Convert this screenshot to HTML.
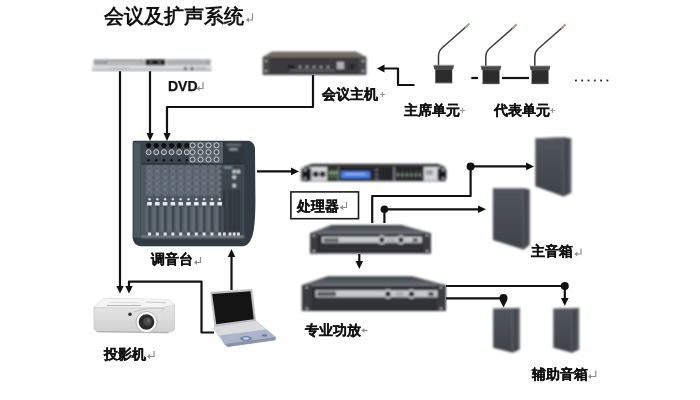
<!DOCTYPE html>
<html><head><meta charset="utf-8">
<style>
html,body{margin:0;padding:0;background:#fff;width:700px;height:400px;overflow:hidden}
svg{position:absolute;left:0;top:0;will-change:transform}
text{font-family:"Liberation Sans",sans-serif;font-weight:bold;fill:#111;stroke:#111;stroke-width:0.25}
.r{stroke:none}
.r{font-weight:normal;fill:#9a9a9a}
</style></head><body>
<svg width="700" height="400" viewBox="0 0 700 400">
<defs>
<marker id="ah" viewBox="0 0 10 10" refX="10" refY="5" markerWidth="7" markerHeight="7" markerUnits="userSpaceOnUse" orient="auto">
<path d="M0,0 L10,5 L0,10 z" fill="#111"/>
</marker>
<filter id="bl" x="-5%" y="-5%" width="110%" height="110%"><feGaussianBlur stdDeviation="0.8"/></filter>
</defs>

<!-- TITLE -->
<text x="104" y="23" font-size="20" style="stroke-width:0">会议及扩声系统</text>

<!-- LINES -->
<g stroke="#111" stroke-width="2.2" fill="none" stroke-linejoin="round">
  <!-- DVD to projector -->
  <path d="M120,71 V286"/>
  <path d="M150,71 V134"/>
  <!-- host to mixer -->
  <path d="M313,75 V107 H167 V134"/>
  <!-- mics to host -->
  <path d="M414.5,85 H398 V68.5 H384"/>
  <!-- mic dash and link -->
  <path d="M471.3,78 H478"/>
  <path d="M502,78 H529"/>
  <!-- mixer to processor -->
  <path d="M257,171.4 H292"/>
  <!-- processor outputs -->
  <path d="M372.2,223 V196 H470.6 V166.4 H527"/>
  <path d="M384.4,223 V209.3 H479"/>
  <!-- amp1 to amp2 -->
  <path d="M359.3,254 V262"/>
  <!-- amp2 to aux speakers -->
  <path d="M446,286 H564.8 V299"/>
  <path d="M446,298.3 H503.5 V301"/>
  <!-- laptop -->
  <path d="M129,286 V281.6 H201.5 V332.5 H214"/>
  <path d="M231.5,290 V256"/>
</g>
<g fill="#111">
  <path d="M146.5,133 L153.7,133 L150,141 z"/>
  <path d="M163.5,133 L170.7,133 L167,141 z"/>
  <path d="M384.5,64.5 L384.5,72.5 L377,68.5 z"/>
  <path d="M291,167.6 L291,175.2 L299,171.4 z"/>
  <path d="M526,162.6 L526,170.2 L534,166.4 z"/>
  <path d="M478,205.5 L478,213.1 L486,209.3 z"/>
  <path d="M355.5,261 L363.1,261 L359.3,269 z"/>
  <path d="M116.3,286 L123.7,286 L120,293.5 z"/>
  <path d="M125.3,286 L132.7,286 L129,293.5 z"/>
  <path d="M227.8,257 L235.2,257 L231.5,249 z"/>
  <path d="M561,298 L568.6,298 L564.8,306 z"/>
  <path d="M499.7,300 L507.3,300 L503.5,307.5 z"/>
  <circle cx="470.6" cy="166.4" r="4"/>
  <circle cx="384.4" cy="209.3" r="3.8"/>
  <circle cx="564.8" cy="286" r="4"/>
  <circle cx="503.5" cy="298" r="4"/>
</g>

<!-- DVD PLAYER -->
<g filter="url(#bl)">
  <rect x="93.6" y="59" width="117" height="6.5" fill="#9c9fa4"/>
  <rect x="93.6" y="59" width="117" height="0.8" fill="#c8cacd"/>
  <rect x="92" y="65.5" width="119.5" height="1" fill="#eceef0"/>
  <rect x="92" y="66.5" width="119.5" height="4" fill="#cfd1d5"/>
  <rect x="92" y="70" width="119.5" height="1" fill="#8a8d92"/>
  <rect x="105.7" y="61.4" width="37" height="2.6" fill="#5c6066"/>
  <rect x="106.5" y="62" width="35.5" height="1.4" fill="#eef0f2"/>
  <rect x="143.5" y="59.3" width="1.2" height="6" fill="#d8dadc"/>
  <rect x="145.6" y="59.5" width="19.4" height="5.8" fill="#131416"/>
  <rect x="150" y="61.5" width="2" height="1.5" fill="#888"/>
  <rect x="158" y="61.5" width="3" height="1.5" fill="#888"/>
  <rect x="166" y="59.3" width="1.2" height="6" fill="#d8dadc"/>
  <rect x="168" y="61.4" width="38" height="2" fill="#b9bcc0"/>
  <circle cx="185.5" cy="68.3" r="1.5" fill="#2a2a2a"/>
  <circle cx="192" cy="68.3" r="1.5" fill="#2a2a2a"/>
  <rect x="196" y="67.6" width="10" height="1.2" fill="#9a9da2"/>
  <rect x="110" y="67.6" width="20" height="0.8" fill="#a6a9ae"/>
</g>
<text x="168" y="91" font-size="14">DVD</text>

<!-- HOST -->
<g filter="url(#bl)">
  <path d="M272,51.5 L356,51.5 L366.4,57 L262.7,57 z" fill="#716a62"/>
  <rect x="262.7" y="56.6" width="103.7" height="1" fill="#8d8882"/>
  <rect x="262.7" y="57" width="103.7" height="18" fill="#48484a"/>
  <rect x="270" y="58" width="89" height="16" fill="#3a3a3c"/>
  <rect x="337" y="62" width="7" height="7" fill="#b4b4b4"/>
  <g fill="#a8a8a8"><circle cx="300" cy="67" r="1.3"/><circle cx="307" cy="67" r="1.3"/><circle cx="314" cy="67" r="1.3"/><circle cx="321" cy="67" r="1.3"/><circle cx="328" cy="67" r="1.3"/></g>
  <rect x="288" y="65" width="6" height="4" fill="#222"/>
  <rect x="350" y="64" width="4" height="5" fill="#222"/>
  <rect x="290" y="70" width="45" height="1" fill="#777"/>
  <g fill="#ccc"><circle cx="266" cy="61" r="1"/><circle cx="266" cy="71" r="1"/><circle cx="363" cy="61" r="1"/><circle cx="363" cy="71" r="1"/></g>
</g>
<text x="322" y="99" font-size="14">会议主机</text>

<!-- MICS -->
<g>
  <g id="mic">
    <path d="M438.5,66 L438.5,56 Q438.5,51 442.5,47.5 L467.5,25.5" stroke="#3a3a3a" stroke-width="1.5" fill="none"/>
    <path d="M465,27.5 L469.5,23.5" stroke="#b89890" stroke-width="2"/>
    <path d="M433.4,65.2 L454,65.2 L453,69.5 L434.4,69.5 z" fill="#4a4a4a"/>
    <path d="M433.4,65.2 L454,65.2" stroke="#9a9a9a" stroke-width="0.8"/>
    <rect x="435.3" y="69.3" width="16.9" height="14" fill="#2c2c2c"/>
    <rect x="435.3" y="82" width="16.9" height="1" fill="#555"/>
  </g>
  <use href="#mic" x="47.3" y="0.8"/>
  <use href="#mic" x="96.3" y="0.8"/>
  <g fill="#222"><rect x="575" y="79.6" width="1.8" height="1.8"/><rect x="581.3" y="79.6" width="1.8" height="1.8"/><rect x="587.6" y="79.6" width="1.8" height="1.8"/><rect x="593.9" y="79.6" width="1.8" height="1.8"/><rect x="600.2" y="79.6" width="1.8" height="1.8"/><rect x="606.5" y="79.6" width="1.8" height="1.8"/></g>
</g>
<text x="403.6" y="115" font-size="14">主席单元</text>
<text x="494" y="115" font-size="14">代表单元</text>

<!-- MIXER -->
<g>
<g>
<path d="M134,140.8 L249,140.8 Q254.4,142.5 255,148 L255.4,200 Q255.4,228 252,237 Q249,245.5 243,246.3 L141,246.3 Q133.5,245.5 132.6,238 L132.6,142.5 Q132.8,140.8 134,140.8 z" fill="#323a43"/>
<rect x="133.6" y="142.5" width="7" height="95" fill="#4e5a62"/>
<rect x="141" y="142" width="103" height="95" fill="#4d5761"/>
<rect x="141" y="142" width="48" height="22" fill="#3c444e"/>
<rect x="189" y="142" width="34" height="22" fill="#59616a"/>
<rect x="223" y="142" width="21" height="22" fill="#2f363e"/>
</g>
<g filter="url(#bl)">
<rect x="226" y="144" width="15" height="1.5" fill="#8a929a"/>
<rect x="229" y="148" width="9" height="2.5" fill="#9ca4ac"/>
<circle cx="149.5" cy="168.5" r="2.4" fill="#3c444e" stroke="#97a1ab" stroke-width="1"/>
<circle cx="149.5" cy="174.5" r="2.4" fill="#3c444e" stroke="#97a1ab" stroke-width="1"/>
<circle cx="149.5" cy="180.5" r="2.4" fill="#3c444e" stroke="#97a1ab" stroke-width="1"/>
<circle cx="149.5" cy="186.5" r="2.4" fill="#3c444e" stroke="#97a1ab" stroke-width="1"/>
<circle cx="149.5" cy="192.5" r="2.4" fill="#3c444e" stroke="#97a1ab" stroke-width="1"/>
<circle cx="157.3" cy="168.5" r="2.4" fill="#3c444e" stroke="#97a1ab" stroke-width="1"/>
<circle cx="157.3" cy="174.5" r="2.4" fill="#3c444e" stroke="#97a1ab" stroke-width="1"/>
<circle cx="157.3" cy="180.5" r="2.4" fill="#3c444e" stroke="#97a1ab" stroke-width="1"/>
<circle cx="157.3" cy="186.5" r="2.4" fill="#3c444e" stroke="#97a1ab" stroke-width="1"/>
<circle cx="157.3" cy="192.5" r="2.4" fill="#3c444e" stroke="#97a1ab" stroke-width="1"/>
<circle cx="165.1" cy="168.5" r="2.4" fill="#3c444e" stroke="#97a1ab" stroke-width="1"/>
<circle cx="165.1" cy="174.5" r="2.4" fill="#3c444e" stroke="#97a1ab" stroke-width="1"/>
<circle cx="165.1" cy="180.5" r="2.4" fill="#3c444e" stroke="#97a1ab" stroke-width="1"/>
<circle cx="165.1" cy="186.5" r="2.4" fill="#3c444e" stroke="#97a1ab" stroke-width="1"/>
<circle cx="165.1" cy="192.5" r="2.4" fill="#3c444e" stroke="#97a1ab" stroke-width="1"/>
<circle cx="172.9" cy="168.5" r="2.4" fill="#3c444e" stroke="#97a1ab" stroke-width="1"/>
<circle cx="172.9" cy="174.5" r="2.4" fill="#3c444e" stroke="#97a1ab" stroke-width="1"/>
<circle cx="172.9" cy="180.5" r="2.4" fill="#3c444e" stroke="#97a1ab" stroke-width="1"/>
<circle cx="172.9" cy="186.5" r="2.4" fill="#3c444e" stroke="#97a1ab" stroke-width="1"/>
<circle cx="172.9" cy="192.5" r="2.4" fill="#3c444e" stroke="#97a1ab" stroke-width="1"/>
<circle cx="180.7" cy="168.5" r="2.4" fill="#3c444e" stroke="#97a1ab" stroke-width="1"/>
<circle cx="180.7" cy="174.5" r="2.4" fill="#3c444e" stroke="#97a1ab" stroke-width="1"/>
<circle cx="180.7" cy="180.5" r="2.4" fill="#3c444e" stroke="#97a1ab" stroke-width="1"/>
<circle cx="180.7" cy="186.5" r="2.4" fill="#3c444e" stroke="#97a1ab" stroke-width="1"/>
<circle cx="180.7" cy="192.5" r="2.4" fill="#3c444e" stroke="#97a1ab" stroke-width="1"/>
<circle cx="188.5" cy="168.5" r="2.4" fill="#3c444e" stroke="#97a1ab" stroke-width="1"/>
<circle cx="188.5" cy="174.5" r="2.4" fill="#3c444e" stroke="#97a1ab" stroke-width="1"/>
<circle cx="188.5" cy="180.5" r="2.4" fill="#3c444e" stroke="#97a1ab" stroke-width="1"/>
<circle cx="188.5" cy="186.5" r="2.4" fill="#3c444e" stroke="#97a1ab" stroke-width="1"/>
<circle cx="188.5" cy="192.5" r="2.4" fill="#3c444e" stroke="#97a1ab" stroke-width="1"/>
<circle cx="196.3" cy="168.5" r="2.4" fill="#3c444e" stroke="#97a1ab" stroke-width="1"/>
<circle cx="196.3" cy="174.5" r="2.4" fill="#3c444e" stroke="#97a1ab" stroke-width="1"/>
<circle cx="196.3" cy="180.5" r="2.4" fill="#3c444e" stroke="#97a1ab" stroke-width="1"/>
<circle cx="196.3" cy="186.5" r="2.4" fill="#3c444e" stroke="#97a1ab" stroke-width="1"/>
<circle cx="196.3" cy="192.5" r="2.4" fill="#3c444e" stroke="#97a1ab" stroke-width="1"/>
<circle cx="204.1" cy="168.5" r="2.4" fill="#3c444e" stroke="#97a1ab" stroke-width="1"/>
<circle cx="204.1" cy="174.5" r="2.4" fill="#3c444e" stroke="#97a1ab" stroke-width="1"/>
<circle cx="204.1" cy="180.5" r="2.4" fill="#3c444e" stroke="#97a1ab" stroke-width="1"/>
<circle cx="204.1" cy="186.5" r="2.4" fill="#3c444e" stroke="#97a1ab" stroke-width="1"/>
<circle cx="204.1" cy="192.5" r="2.4" fill="#3c444e" stroke="#97a1ab" stroke-width="1"/>
<circle cx="211.9" cy="168.5" r="2.4" fill="#3c444e" stroke="#97a1ab" stroke-width="1"/>
<circle cx="211.9" cy="174.5" r="2.4" fill="#3c444e" stroke="#97a1ab" stroke-width="1"/>
<circle cx="211.9" cy="180.5" r="2.4" fill="#3c444e" stroke="#97a1ab" stroke-width="1"/>
<circle cx="211.9" cy="186.5" r="2.4" fill="#3c444e" stroke="#97a1ab" stroke-width="1"/>
<circle cx="211.9" cy="192.5" r="2.4" fill="#3c444e" stroke="#97a1ab" stroke-width="1"/>
<circle cx="219.7" cy="168.5" r="2.4" fill="#3c444e" stroke="#97a1ab" stroke-width="1"/>
<circle cx="219.7" cy="174.5" r="2.4" fill="#3c444e" stroke="#97a1ab" stroke-width="1"/>
<circle cx="219.7" cy="180.5" r="2.4" fill="#3c444e" stroke="#97a1ab" stroke-width="1"/>
<circle cx="219.7" cy="186.5" r="2.4" fill="#3c444e" stroke="#97a1ab" stroke-width="1"/>
<circle cx="219.7" cy="192.5" r="2.4" fill="#3c444e" stroke="#97a1ab" stroke-width="1"/>
<rect x="221" y="165" width="23" height="72" fill="#3d454e"/>
<circle cx="234.2" cy="171.6" r="1.6" fill="#f4f6f8"/>
<circle cx="238.4" cy="171.6" r="1.6" fill="#f4f6f8"/>
<circle cx="234.2" cy="177.2" r="1.6" fill="#f4f6f8"/>
<circle cx="234.2" cy="185.6" r="1.6" fill="#f4f6f8"/>
<rect x="224" y="167" width="8" height="1" fill="#b0b8c0"/>
<rect x="148.6" y="205" width="1.8" height="27" fill="#1c2127"/>
<rect x="146.3" y="206" width="1.3" height="26" fill="#7e8892"/>
<rect x="151.5" y="206" width="1" height="26" fill="#6a747e"/>
<rect x="156.4" y="205" width="1.8" height="27" fill="#1c2127"/>
<rect x="154.1" y="206" width="1.3" height="26" fill="#7e8892"/>
<rect x="159.3" y="206" width="1" height="26" fill="#6a747e"/>
<rect x="164.2" y="205" width="1.8" height="27" fill="#1c2127"/>
<rect x="161.9" y="206" width="1.3" height="26" fill="#7e8892"/>
<rect x="167.1" y="206" width="1" height="26" fill="#6a747e"/>
<rect x="172.0" y="205" width="1.8" height="27" fill="#1c2127"/>
<rect x="169.7" y="206" width="1.3" height="26" fill="#7e8892"/>
<rect x="174.9" y="206" width="1" height="26" fill="#6a747e"/>
<rect x="179.8" y="205" width="1.8" height="27" fill="#1c2127"/>
<rect x="177.5" y="206" width="1.3" height="26" fill="#7e8892"/>
<rect x="182.7" y="206" width="1" height="26" fill="#6a747e"/>
<rect x="187.6" y="205" width="1.8" height="27" fill="#1c2127"/>
<rect x="185.3" y="206" width="1.3" height="26" fill="#7e8892"/>
<rect x="190.5" y="206" width="1" height="26" fill="#6a747e"/>
<rect x="195.4" y="205" width="1.8" height="27" fill="#1c2127"/>
<rect x="193.1" y="206" width="1.3" height="26" fill="#7e8892"/>
<rect x="198.3" y="206" width="1" height="26" fill="#6a747e"/>
<rect x="203.2" y="205" width="1.8" height="27" fill="#1c2127"/>
<rect x="200.9" y="206" width="1.3" height="26" fill="#7e8892"/>
<rect x="206.1" y="206" width="1" height="26" fill="#6a747e"/>
<rect x="211.0" y="205" width="1.8" height="27" fill="#1c2127"/>
<rect x="208.7" y="206" width="1.3" height="26" fill="#7e8892"/>
<rect x="213.9" y="206" width="1" height="26" fill="#6a747e"/>
<rect x="218.8" y="205" width="1.8" height="27" fill="#1c2127"/>
<rect x="216.5" y="206" width="1.3" height="26" fill="#7e8892"/>
<rect x="221.7" y="206" width="1" height="26" fill="#6a747e"/>
<rect x="223.7" y="190" width="1.4" height="42" fill="#1c2127"/>
<rect x="229.3" y="190" width="1.4" height="42" fill="#1c2127"/>
<rect x="233.5" y="190" width="1.4" height="42" fill="#1c2127"/>
<rect x="237.7" y="190" width="1.4" height="42" fill="#1c2127"/>
<rect x="141" y="236.5" width="103" height="1" fill="#c8ced4"/>
</g>
<circle cx="148.6" cy="145.6" r="3.1" fill="#0c0d10" stroke="#59626c" stroke-width="0.6"/>
<circle cx="148.6" cy="152.2" r="2.5" fill="#505862" stroke="#cfd4d9" stroke-width="1"/>
<circle cx="148.6" cy="160.3" r="1.3" fill="#0f1114"/>
<circle cx="156.2" cy="145.6" r="3.1" fill="#0c0d10" stroke="#59626c" stroke-width="0.6"/>
<circle cx="156.2" cy="152.2" r="2.5" fill="#505862" stroke="#cfd4d9" stroke-width="1"/>
<circle cx="156.2" cy="160.3" r="1.3" fill="#0f1114"/>
<circle cx="163.9" cy="145.6" r="3.1" fill="#0c0d10" stroke="#59626c" stroke-width="0.6"/>
<circle cx="163.9" cy="152.2" r="2.5" fill="#505862" stroke="#cfd4d9" stroke-width="1"/>
<circle cx="163.9" cy="160.3" r="1.3" fill="#0f1114"/>
<circle cx="171.6" cy="145.6" r="3.1" fill="#0c0d10" stroke="#59626c" stroke-width="0.6"/>
<circle cx="171.6" cy="152.2" r="2.5" fill="#505862" stroke="#cfd4d9" stroke-width="1"/>
<circle cx="171.6" cy="160.3" r="1.3" fill="#0f1114"/>
<circle cx="179.2" cy="145.6" r="3.1" fill="#0c0d10" stroke="#59626c" stroke-width="0.6"/>
<circle cx="179.2" cy="152.2" r="2.5" fill="#505862" stroke="#cfd4d9" stroke-width="1"/>
<circle cx="179.2" cy="160.3" r="1.3" fill="#0f1114"/>
<circle cx="186.8" cy="145.6" r="3.1" fill="#0c0d10" stroke="#59626c" stroke-width="0.6"/>
<circle cx="186.8" cy="152.2" r="2.5" fill="#505862" stroke="#cfd4d9" stroke-width="1"/>
<circle cx="186.8" cy="160.3" r="1.3" fill="#0f1114"/>
<rect x="141" y="163.3" width="103" height="1.2" fill="#262c33"/>
<circle cx="192.5" cy="145.3" r="2.5" fill="#4a525c" stroke="#d6dade" stroke-width="0.9"/>
<circle cx="200.5" cy="145.3" r="2.5" fill="#4a525c" stroke="#d6dade" stroke-width="0.9"/>
<circle cx="208.5" cy="145.3" r="2.5" fill="#4a525c" stroke="#d6dade" stroke-width="0.9"/>
<circle cx="216.5" cy="145.3" r="2.5" fill="#4a525c" stroke="#d6dade" stroke-width="0.9"/>
<circle cx="192.5" cy="152.2" r="2.5" fill="#4a525c" stroke="#d6dade" stroke-width="0.9"/>
<circle cx="200.5" cy="152.2" r="2.5" fill="#4a525c" stroke="#d6dade" stroke-width="0.9"/>
<circle cx="208.5" cy="152.2" r="2.5" fill="#4a525c" stroke="#d6dade" stroke-width="0.9"/>
<circle cx="216.5" cy="152.2" r="2.5" fill="#4a525c" stroke="#d6dade" stroke-width="0.9"/>
<circle cx="192.5" cy="159.5" r="2.5" fill="#4a525c" stroke="#d6dade" stroke-width="0.9"/>
<circle cx="200.5" cy="159.5" r="2.5" fill="#4a525c" stroke="#d6dade" stroke-width="0.9"/>
<circle cx="208.5" cy="159.5" r="2.5" fill="#4a525c" stroke="#d6dade" stroke-width="0.9"/>
<circle cx="216.5" cy="159.5" r="2.5" fill="#4a525c" stroke="#d6dade" stroke-width="0.9"/>
<rect x="147.2" y="202" width="4.6" height="3.5" fill="#e6eaee"/>
<circle cx="149.5" cy="199.2" r="1.2" fill="#d8dde2"/>
<rect x="148.0" y="232.5" width="3" height="3" fill="#e2e6ea"/>
<rect x="155.0" y="202" width="4.6" height="3.5" fill="#e6eaee"/>
<circle cx="157.3" cy="199.2" r="1.2" fill="#d8dde2"/>
<rect x="155.8" y="232.5" width="3" height="3" fill="#e2e6ea"/>
<rect x="162.8" y="202" width="4.6" height="3.5" fill="#e6eaee"/>
<circle cx="165.1" cy="199.2" r="1.2" fill="#d8dde2"/>
<rect x="163.6" y="232.5" width="3" height="3" fill="#e2e6ea"/>
<rect x="170.6" y="202" width="4.6" height="3.5" fill="#e6eaee"/>
<circle cx="172.9" cy="199.2" r="1.2" fill="#d8dde2"/>
<rect x="171.4" y="232.5" width="3" height="3" fill="#e2e6ea"/>
<rect x="178.4" y="202" width="4.6" height="3.5" fill="#e6eaee"/>
<circle cx="180.7" cy="199.2" r="1.2" fill="#d8dde2"/>
<rect x="179.2" y="232.5" width="3" height="3" fill="#e2e6ea"/>
<rect x="186.2" y="202" width="4.6" height="3.5" fill="#e6eaee"/>
<circle cx="188.5" cy="199.2" r="1.2" fill="#d8dde2"/>
<rect x="187.0" y="232.5" width="3" height="3" fill="#e2e6ea"/>
<rect x="194.0" y="202" width="4.6" height="3.5" fill="#e6eaee"/>
<circle cx="196.3" cy="199.2" r="1.2" fill="#d8dde2"/>
<rect x="194.8" y="232.5" width="3" height="3" fill="#e2e6ea"/>
<rect x="201.8" y="202" width="4.6" height="3.5" fill="#e6eaee"/>
<circle cx="204.1" cy="199.2" r="1.2" fill="#d8dde2"/>
<rect x="202.6" y="232.5" width="3" height="3" fill="#e2e6ea"/>
<rect x="209.6" y="202" width="4.6" height="3.5" fill="#e6eaee"/>
<circle cx="211.9" cy="199.2" r="1.2" fill="#d8dde2"/>
<rect x="210.4" y="232.5" width="3" height="3" fill="#e2e6ea"/>
<rect x="217.4" y="202" width="4.6" height="3.5" fill="#e6eaee"/>
<circle cx="219.7" cy="199.2" r="1.2" fill="#d8dde2"/>
<rect x="218.2" y="232.5" width="3" height="3" fill="#e2e6ea"/>
<rect x="223.0" y="232.5" width="2.8" height="3" fill="#e2e6ea"/>
<rect x="228.6" y="232.5" width="2.8" height="3" fill="#e2e6ea"/>
<rect x="232.8" y="232.5" width="2.8" height="3" fill="#e2e6ea"/>
<rect x="237.0" y="232.5" width="2.8" height="3" fill="#e2e6ea"/>

</g>
<text x="151" y="264" font-size="14">调音台</text>

<rect x="290.9" y="191.9" width="67.6" height="26.8" fill="#fff" stroke="#1a1a1a" stroke-width="1.6"/>
<text x="296.5" y="211" font-size="14">处理器</text>

<!-- AMPS+SPEAKERS -->
<g filter="url(#bl)">
<defs><linearGradient id="sg" x1="0" y1="0" x2="0" y2="1"><stop offset="0" stop-color="#50555c"/><stop offset="1" stop-color="#3f4349"/></linearGradient><linearGradient id="ss" x1="0" y1="0" x2="1" y2="0"><stop offset="0" stop-color="#3a3e44"/><stop offset="0.7" stop-color="#4a4e55"/><stop offset="1" stop-color="#777b81"/></linearGradient></defs>
<defs><linearGradient id="tg224" x1="0" y1="0" x2="0" y2="1"><stop offset="0" stop-color="#3c4044"/><stop offset="1" stop-color="#646c73"/></linearGradient></defs>
<path d="M331.5,224.9 L401.5,224.9 L430.8,233 L310.1,233 z" fill="url(#tg224)"/>
<rect x="310.1" y="233" width="120.7" height="20.5" fill="#2b2c30"/>
<rect x="310.1" y="233" width="120.7" height="0.8" fill="#8a8d92"/>
<rect x="310.1" y="233" width="7.5" height="20.5" fill="#3a3b3f"/>
<rect x="423.3" y="233" width="7.5" height="20.5" fill="#3a3b3f"/>
<circle cx="313.9" cy="235.5" r="1" fill="#d8d8d8"/>
<circle cx="313.9" cy="251.0" r="1" fill="#d8d8d8"/>
<circle cx="427.1" cy="235.5" r="1" fill="#d8d8d8"/>
<circle cx="427.1" cy="251.0" r="1" fill="#d8d8d8"/>
<rect x="322" y="237" width="99.8" height="5.8" fill="#c4c7cb"/>
<rect x="322" y="237" width="99.8" height="1" fill="#e4e6e8"/>
<rect x="324.0" y="238.2" width="14.3" height="3.4" fill="#1e1f22"/>
<rect x="325.5" y="239.3" width="11.3" height="1.2" fill="#9a9ca0"/>
<circle cx="381.8" cy="239.9" r="4.3" fill="#f4f5f6" stroke="#8a8d92" stroke-width="0.5"/>
<circle cx="381.8" cy="239.9" r="2.8" fill="#2a2c30"/>
<circle cx="400.9" cy="239.9" r="4.3" fill="#f4f5f6" stroke="#8a8d92" stroke-width="0.5"/>
<circle cx="400.9" cy="239.9" r="2.8" fill="#2a2c30"/>
<rect x="387.4" y="237.9" width="8" height="4" fill="#a8abb0"/>
<rect x="412.8" y="238.5" width="5" height="2.8" fill="#2a2b2e"/>
<rect x="319.6" y="244.6" width="101.7" height="0.7" fill="#3e4044"/>
<rect x="319.6" y="246.8" width="101.7" height="0.7" fill="#3e4044"/>
<rect x="319.6" y="249.0" width="101.7" height="0.7" fill="#3e4044"/>
<defs><linearGradient id="tg276" x1="0" y1="0" x2="0" y2="1"><stop offset="0" stop-color="#3c4044"/><stop offset="1" stop-color="#646c73"/></linearGradient></defs>
<path d="M327.5,276.25 L412,276.25 L446,285 L301.9,285 z" fill="url(#tg276)"/>
<rect x="301.9" y="285" width="144.1" height="26.0" fill="#2b2c30"/>
<rect x="301.9" y="285" width="144.1" height="0.8" fill="#8a8d92"/>
<rect x="301.9" y="285" width="9.8" height="26.0" fill="#3a3b3f"/>
<rect x="436.2" y="285" width="9.8" height="26.0" fill="#3a3b3f"/>
<circle cx="306.8" cy="287.5" r="1" fill="#d8d8d8"/>
<circle cx="306.8" cy="308.5" r="1" fill="#d8d8d8"/>
<circle cx="441.1" cy="287.5" r="1" fill="#d8d8d8"/>
<circle cx="441.1" cy="308.5" r="1" fill="#d8d8d8"/>
<rect x="315.6" y="290.6" width="121.9" height="6.6" fill="#c4c7cb"/>
<rect x="315.6" y="290.6" width="121.9" height="1" fill="#e4e6e8"/>
<rect x="317.6" y="291.8" width="18.0" height="4.2" fill="#1e1f22"/>
<rect x="319.1" y="293.3" width="15.0" height="1.2" fill="#9a9ca0"/>
<circle cx="388" cy="293.9" r="4.5" fill="#f4f5f6" stroke="#8a8d92" stroke-width="0.5"/>
<circle cx="388" cy="293.9" r="3.0" fill="#2a2c30"/>
<circle cx="411.5" cy="293.9" r="4.5" fill="#f4f5f6" stroke="#8a8d92" stroke-width="0.5"/>
<circle cx="411.5" cy="293.9" r="3.0" fill="#2a2c30"/>
<rect x="395.8" y="291.9" width="8" height="4" fill="#a8abb0"/>
<rect x="428.5" y="292.1" width="5" height="3.6" fill="#2a2b2e"/>
<rect x="313.7" y="299.0" width="120.5" height="0.7" fill="#3e4044"/>
<rect x="313.7" y="301.2" width="120.5" height="0.7" fill="#3e4044"/>
<rect x="313.7" y="303.4" width="120.5" height="0.7" fill="#3e4044"/>
<rect x="313.7" y="305.6" width="120.5" height="0.7" fill="#3e4044"/>
<rect x="313.7" y="307.8" width="120.5" height="0.7" fill="#3e4044"/>
<path d="M535.3,138.4 563.5,137.3 563.5,196.5 535.3,186.3 z" fill="url(#sg)"/>
<path d="M563.5,137.3 571.5,138.6 571.5,193 563.5,196.5 z" fill="url(#ss)"/>
<path d="M563.5,137.3 L563.5,196.5" stroke="#5e6268" stroke-width="1.2"/>
<path d="M535.3,138.6 563.5,137.5 571.5,138.8" stroke="#72767d" stroke-width="1" fill="none"/>
<path d="M492.9,188.4 523.5,188.4 523.5,249.5 492.9,240 z" fill="url(#sg)"/>
<path d="M523.5,188.4 530,189.4 530,244.8 523.5,249.5 z" fill="url(#ss)"/>
<path d="M523.5,188.4 L523.5,249.5" stroke="#5e6268" stroke-width="1.2"/>
<path d="M492.9,188.6 523.5,188.6 530,189.6" stroke="#72767d" stroke-width="1" fill="none"/>
<path d="M493.1,308.8 512.6,308.2 512.6,352.7 493.1,347.8 z" fill="url(#sg)"/>
<path d="M512.6,308.2 520,308 520,349.5 512.6,352.7 z" fill="url(#ss)"/>
<path d="M512.6,308.2 L512.6,352.7" stroke="#5e6268" stroke-width="1.2"/>
<path d="M493.1,309 512.6,308.4 520,308.2" stroke="#72767d" stroke-width="1" fill="none"/>
<path d="M553.3,308.8 572,308.2 572,352.7 553.3,347.8 z" fill="url(#sg)"/>
<path d="M572,308.2 579.3,308 579.3,349.5 572,352.7 z" fill="url(#ss)"/>
<path d="M572,308.2 L572,352.7" stroke="#5e6268" stroke-width="1.2"/>
<path d="M553.3,309 572,308.4 579.3,308.2" stroke="#72767d" stroke-width="1" fill="none"/>
<path d="M312,163.7 L437.4,163.7 L446,167 L303,167 z" fill="#37383b"/>
<rect x="300.7" y="167" width="145.3" height="14" fill="#2a2c2f"/>
<rect x="300.7" y="167" width="10.7" height="14" fill="#cfd1d4"/>
<rect x="301.5" y="167.5" width="9.5" height="13.5" rx="3.5" fill="#18191b"/>
<circle cx="305" cy="170" r="1" fill="#e8e8e8"/><circle cx="305" cy="178.5" r="1" fill="#e8e8e8"/>
<rect x="311.4" y="167" width="16" height="14" fill="#d3d5d8"/>
<circle cx="315.7" cy="174.3" r="3" fill="#1c1d20"/><circle cx="322.6" cy="174.3" r="3" fill="#1c1d20"/>
<rect x="327.5" y="167" width="10.7" height="14" fill="#222a22"/>
<rect x="329.8" y="169.5" width="1.2" height="9" fill="#6d8a62"/>
<rect x="329.5" y="172" width="1.8" height="1.5" fill="#c8e0b0"/>
<rect x="332.8" y="169.5" width="1.2" height="9" fill="#6d8a62"/>
<rect x="332.5" y="172" width="1.8" height="1.5" fill="#c8e0b0"/>
<rect x="335.8" y="169.5" width="1.2" height="9" fill="#6d8a62"/>
<rect x="335.5" y="172" width="1.8" height="1.5" fill="#c8e0b0"/>
<rect x="338.2" y="167" width="1.2" height="14" fill="#8a8c90"/>
<rect x="339.4" y="167" width="54" height="14" fill="#25272b"/>
<rect x="341" y="171.3" width="29" height="7" fill="#4a7fe4"/>
<rect x="345" y="173.3" width="20" height="1.5" fill="#a9c4f5"/>
<rect x="375" y="169.2" width="3" height="1.6" fill="#7a7c80"/>
<rect x="375" y="173.7" width="3" height="1.6" fill="#7a7c80"/>
<rect x="375" y="177.7" width="3" height="1.6" fill="#7a7c80"/>
<rect x="393.4" y="167" width="1.6" height="14" fill="#8a8c90"/>
<rect x="395" y="167" width="28.7" height="14" fill="#222426"/>
<rect x="397.5" y="170.5" width="1.2" height="8" fill="#5a5c60"/>
<rect x="396.9" y="174" width="2.4" height="1.6" fill="#8fae7c"/>
<rect x="401.9" y="170.5" width="1.2" height="8" fill="#5a5c60"/>
<rect x="401.3" y="174" width="2.4" height="1.6" fill="#8fae7c"/>
<rect x="406.3" y="170.5" width="1.2" height="8" fill="#5a5c60"/>
<rect x="405.7" y="174" width="2.4" height="1.6" fill="#8fae7c"/>
<rect x="410.7" y="170.5" width="1.2" height="8" fill="#5a5c60"/>
<rect x="410.1" y="174" width="2.4" height="1.6" fill="#8fae7c"/>
<rect x="415.1" y="170.5" width="1.2" height="8" fill="#5a5c60"/>
<rect x="414.5" y="174" width="2.4" height="1.6" fill="#8fae7c"/>
<rect x="419.5" y="170.5" width="1.2" height="8" fill="#5a5c60"/>
<rect x="418.9" y="174" width="2.4" height="1.6" fill="#8fae7c"/>
<rect x="423.7" y="167" width="13.7" height="14" fill="#d6d8db"/>
<rect x="426" y="170" width="7" height="5" fill="#9c9ea2"/>
<rect x="437.4" y="167" width="8.6" height="14" fill="#cfd1d4"/>
<rect x="437.8" y="167.5" width="8.5" height="13.5" rx="3.5" fill="#18191b"/>
<circle cx="443" cy="170" r="1" fill="#e8e8e8"/><circle cx="443" cy="178.5" r="1" fill="#e8e8e8"/>
<rect x="300.7" y="180.6" width="145.3" height="0.8" fill="#555"/>

</g>
<text x="305" y="335" font-size="14">专业功放</text>

<text x="531" y="256" font-size="14">主音箱</text>
<text x="532" y="378.5" font-size="14">辅助音箱</text>

<!-- PROJECTOR -->
<g>
  <defs><linearGradient id="pjf" x1="0" y1="0" x2="0" y2="1"><stop offset="0" stop-color="#ebebeb"/><stop offset="1" stop-color="#d0d0d0"/></linearGradient></defs>
  <path d="M103,298.5 L169,299.5 L174.5,305 L174.5,330 L168,333 L97,332 L94,329 L94,307.5 z" fill="url(#pjf)" stroke="#c9c9c9" stroke-width="0.8"/>
  <path d="M103,298.5 L169,299.5 L174.5,305 L162,308 L94,307.5 z" fill="#f4f4f4"/>
  <path d="M94,307.5 L162,308 L174.5,305" stroke="#cdcdcd" stroke-width="0.8" fill="none"/>
  <path d="M162,308 L168,333" stroke="#d6d6d6" stroke-width="0.8" fill="none"/>
  <path d="M107,305.5 L141,305.5" stroke="#b5b5b5" stroke-width="1.2"/>
  <path d="M110,302.5 L138,302.5" stroke="#dcdcdc" stroke-width="1"/>
  <path d="M146,302 L166,302.8" stroke="#c8c8c8" stroke-width="1"/>
  <path d="M97,331.5 L168,332.5" stroke="#b0b0b0" stroke-width="1"/>
  <path d="M134,312 Q150,306 165,309" stroke="#c4c4c4" stroke-width="1" fill="none"/>
  <circle cx="146.5" cy="322" r="10.5" fill="#fbfbfb" stroke="#a8a8a8" stroke-width="0.8"/>
  <circle cx="146.5" cy="322" r="7.8" fill="#2a2a2a"/>
  <circle cx="147.5" cy="321.5" r="4.2" fill="#4a4a4a"/>
  <circle cx="148.5" cy="320.5" r="1.5" fill="#6a6a6a"/>
  <circle cx="130" cy="314.3" r="1.8" fill="#333"/>
</g>
<text x="104" y="359" font-size="14">投影机</text>

<!-- LAPTOP -->
<g>
  <path d="M210.7,292.3 L252,289.5 L255.6,320.7 L214.7,326.4 z" fill="#c4c5c8" stroke="#a9abaf" stroke-width="0.6"/>
  <path d="M212.2,294 L250.5,291.3 L253.8,319.3 L216.2,324.3 z" fill="#141414"/>
  <path d="M214.7,326.4 L255.6,320.7 L275.6,337 L275.2,340 L227.7,346.7 L224.5,344 L213.9,328.8 z" fill="#d9dbdf" stroke="#b5b8bd" stroke-width="0.6"/>
  <path d="M219.5,335.5 L266,329.5 L275.6,337 L275.2,340 L227.7,346.7 L224.5,344 z" fill="#aab5c9"/>
  <path d="M224.5,344 L227.7,346.7 L275.2,340 L275.6,337 z" fill="#8893a8"/>
  <ellipse cx="246" cy="338.5" rx="6" ry="2.6" fill="#7486ae"/>
  <ellipse cx="246" cy="338.5" rx="3" ry="1.2" fill="#c8d0e0"/>
  <rect x="262" y="334.5" width="5" height="2" fill="#6a7898"/>
</g>
<!-- MARKS -->
<g><path d="M252.5,13.5 V20 H248" stroke="#8c8c8c" stroke-width="1.2" fill="none"/><path d="M246,20 L249,17.5 L249,22.5 z" fill="#8c8c8c"/>
<path d="M203,82 V88.5 H198.5" stroke="#8c8c8c" stroke-width="1.2" fill="none"/><path d="M196.5,88.5 L199.5,86.0 L199.5,91.0 z" fill="#8c8c8c"/>
<path d="M380.0,94.5 H385.0 M382.5,92.0 V97.0" stroke="#9a9a9a" stroke-width="1.2"/>
<path d="M460.0,110.5 H465.0 M462.5,108.0 V113.0" stroke="#9a9a9a" stroke-width="1.2"/>
<path d="M550.0,110.5 H555.0 M552.5,108.0 V113.0" stroke="#9a9a9a" stroke-width="1.2"/>
<path d="M200.5,257 V262.5 H196" stroke="#8c8c8c" stroke-width="1.2" fill="none"/><path d="M194,262.5 L197,260.0 L197,265.0 z" fill="#8c8c8c"/>
<path d="M346.5,202 V207.5 H342" stroke="#8c8c8c" stroke-width="1.2" fill="none"/><path d="M340,207.5 L343,205.0 L343,210.0 z" fill="#8c8c8c"/>
<path d="M581,248.5 V254 H576.3" stroke="#8c8c8c" stroke-width="1.2" fill="none"/><path d="M574.3,254 L577.3,251.5 L577.3,256.5 z" fill="#8c8c8c"/>
<path d="M367.6,330.4 H363.3" stroke="#8c8c8c" stroke-width="1.2" fill="none"/><path d="M361.3,330.4 L364.3,327.9 L364.3,332.9 z" fill="#8c8c8c"/>
<path d="M154,351 V356.5 H149" stroke="#8c8c8c" stroke-width="1.2" fill="none"/><path d="M147,356.5 L150,354.0 L150,359.0 z" fill="#8c8c8c"/>
<path d="M595.8,370.5 V376.5 H590" stroke="#8c8c8c" stroke-width="1.2" fill="none"/><path d="M588,376.5 L591,374.0 L591,379.0 z" fill="#8c8c8c"/></g>
</svg>
</body></html>
